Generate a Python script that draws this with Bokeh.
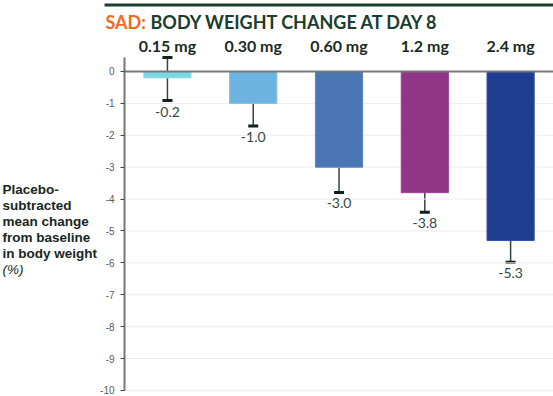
from bokeh.plotting import figure
from bokeh.models import (ColumnDataSource, Whisker, TeeHead, LabelSet, Label,
                          BoxAnnotation, Range1d, FixedTicker)
from bokeh.core.properties import value
from bokeh.embed import file_html
from bokeh.resources import INLINE

# ---- data ----
doses = ["0.15 mg", "0.30 mg", "0.60 mg", "1.2 mg", "2.4 mg"]
mean_change = [-0.2, -1.0, -3.0, -3.8, -5.3]
err_upper = [0.44, -0.33, -2.26, -3.19, -4.64]
err_lower = [-0.91, -1.71, -3.79, -4.41, -5.98]
value_labels = ["-0.2", "-1.0", "-3.0", "-3.8", "-5.3"]
bar_colors = ["#7bd8e2", "#6cb4df", "#4a76b5", "#923587", "#1e3d91"]
bar_edges = ["#8fe0e8", "#80c0e6", "#5c86c0", "#9c4592", "#3450a5"]
y_ticks = [0, -1, -2, -3, -4, -5, -6, -7, -8, -9, -10]
y_tick_labels = ["0", "-1", "-2", "-3", "-4", "-5", "-6", "-7", "-8", "-9", "-10"]
ylabel_lines = ["Placebo-", "subtracted", "mean change", "from baseline", "in body weight"]
ylabel_unit = "(%)"
title_prefix = "SAD:"
title_rest = "BODY WEIGHT CHANGE AT DAY 8"

idx = list(range(len(doses)))
src = ColumnDataSource(dict(x=idx, dose=doses, mean=mean_change, upper=err_upper,
                            lower=err_lower, lab=value_labels,
                            color=bar_colors, edge=bar_edges,
                            zero=[0] * len(doses)))

W, H = 553, 396
p = figure(width=W, height=H,
           x_range=Range1d(-1.946, len(doses) - 0.5),
           y_range=Range1d(-10.19, 2.226),
           x_axis_location=None,
           output_backend="svg", toolbar_location=None,
           min_border=0)
p.min_border_left = 0
p.min_border_right = 0
p.min_border_top = 0
p.min_border_bottom = 0
p.outline_line_color = None
p.background_fill_color = "white"
p.grid.visible = False

ax = p.yaxis[0]
ax.fixed_location = -0.5
ax.bounds = (-10, 0.45)
ax.ticker = FixedTicker(ticks=y_ticks)
ax.major_label_overrides = {t: s for t, s in zip(y_ticks, y_tick_labels)}
ax.axis_line_color = "#777777"
ax.axis_line_width = 2
ax.major_tick_line_color = "#444444"
ax.major_tick_out = 4
ax.major_tick_in = 0
ax.minor_tick_line_color = None
ax.major_label_text_font = "Liberation Sans"
ax.major_label_text_font_size = "10px"
ax.major_label_text_color = "#5a5a5a"
ax.major_label_standoff = 6

# faint horizontal gridlines from the axis to the right edge
n = len(doses)
p.segment(x0=[-0.5] * len(y_ticks), x1=[n - 0.5] * len(y_ticks),
          y0=y_ticks, y1=y_ticks, line_color="#ececec", line_width=1)

# bars
p.vbar(x="x", top="zero", bottom="mean", width=0.55, source=src,
       fill_color="color", line_color="edge", line_width=1)

# zero line
p.segment(x0=[-0.5], x1=[n - 0.5], y0=[0], y1=[0], line_color="#777777", line_width=2)

# error bars
wh = Whisker(base="x", upper="upper", lower="lower", source=src,
             line_color="#34443e", line_width=1.5,
             upper_head=TeeHead(size=10, line_width=3, line_color="#141e1a"),
             lower_head=TeeHead(size=10, line_width=3, line_color="#141e1a"))
p.add_layout(wh)

# value labels under error bars
p.add_layout(LabelSet(x="x", y="lower", text="lab", source=src,
                      text_align="center", text_baseline="middle", y_offset=-11,
                      text_font=value("Lato"), text_font_size="14px",
                      text_color="#34493f"))

# dose labels above bars (screen y measured from the bottom)
p.add_layout(LabelSet(x="x", y=H - 51, y_units="screen", text="dose", source=src,
                      text_align="center", text_baseline="alphabetic",
                      text_font=value("Lato"), text_font_style="bold",
                      text_font_size="16px", text_color="#1c2a22"))

# title rule
p.add_layout(BoxAnnotation(left=104, right=W, bottom=H - 6, top=H - 3,
                           left_units="screen", right_units="screen",
                           top_units="screen", bottom_units="screen",
                           fill_color="#1a3d2e", fill_alpha=1, line_color=None))

# title
p.add_layout(Label(x=105, y=H - 21, x_units="screen", y_units="screen", text=title_prefix,
                   text_font="Lato", text_font_style="bold", text_font_size="18px",
                   text_color="#f26a21", text_baseline="alphabetic"))
p.add_layout(Label(x=150, y=H - 21, x_units="screen", y_units="screen", text=title_rest,
                   text_font="Lato", text_font_style="bold", text_font_size="18px",
                   text_color="#1a3d2e", text_baseline="alphabetic"))

# y-axis description
for i, line in enumerate(ylabel_lines):
    p.add_layout(Label(x=2, y=H - (189 + 16 * i), x_units="screen", y_units="screen",
                       text=line, text_font="Liberation Sans", text_font_style="bold",
                       text_font_size="13.5px", text_color="#18261e",
                       text_baseline="alphabetic", text_align="left"))
p.add_layout(Label(x=2, y=H - (189 + 16 * len(ylabel_lines)), x_units="screen",
                   y_units="screen", text=ylabel_unit, text_font="Liberation Sans",
                   text_font_style="italic", text_font_size="13.5px", text_color="#18261e",
                   text_baseline="alphabetic", text_align="left"))

open("out.html", "w").write(file_html(p, INLINE))
